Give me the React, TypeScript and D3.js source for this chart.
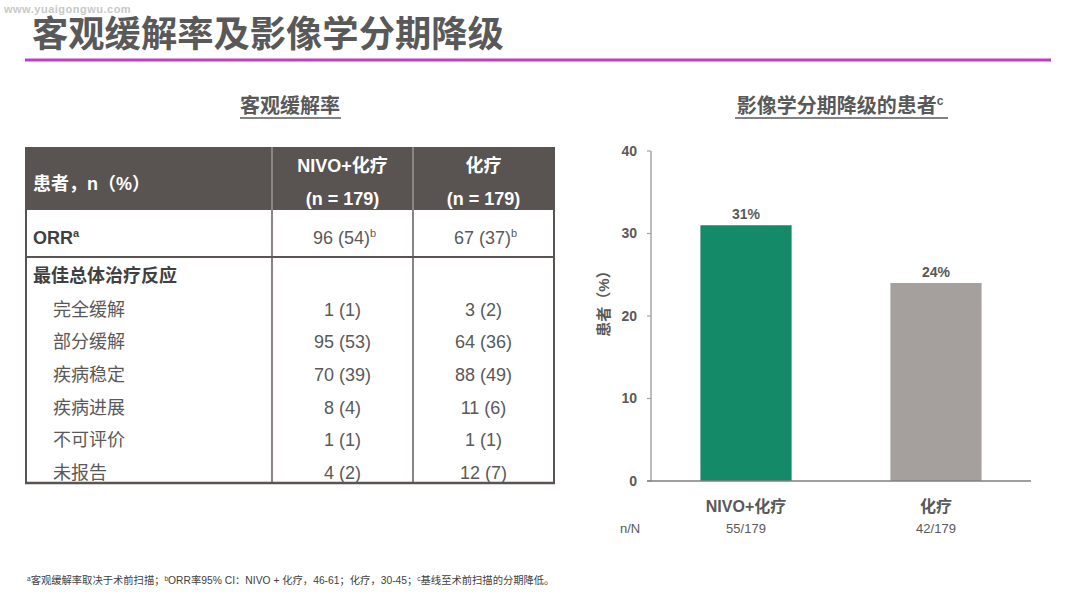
import React from "react";
import * as d3 from "d3";

const W = 1080;
const H = 598;
const FONT = "'Liberation Sans', Arial, 'Noto Sans CJK SC', sans-serif";
const TXT = "#595959";

// Bar chart data
const categories = ["NIVO+化疗", "化疗"];
const percentValues = [31, 24];
const nOverN = ["55/179", "42/179"];
const barColors = ["#158a68", "#a59f9e"];
const yTicks = [0, 10, 20, 30, 40];

// Table data
const tableHeaders = ["NIVO+化疗", "化疗"];
const tableHeaderN = ["(n = 179)", "(n = 179)"];
const orrValues = ["96 (54)", "67 (37)"];
const responseLabels = ["完全缓解", "部分缓解", "疾病稳定", "疾病进展", "不可评价", "未报告"];
const responseNivo = ["1 (1)", "95 (53)", "70 (39)", "8 (4)", "1 (1)", "4 (2)"];
const responseChemo = ["3 (2)", "64 (36)", "88 (49)", "11 (6)", "1 (1)", "12 (7)"];

export default function App() {
  // chart scales
  const y = d3.scaleLinear().domain([0, 40]).range([481, 151]);
  const x = d3.scaleBand().domain(categories).range([651, 1031]).paddingInner(0.52).paddingOuter(0.26);

  // table geometry
  const tL = 26, tR = 554, c1 = 272, c2 = 413;
  const hTop = 147, hBot = 210, orrBot = 257, tBot = 483;
  const colCenters = [(c1 + c2) / 2, (c2 + tR) / 2];
  const rowY = d3.range(responseLabels.length).map((i) => 315.5 + i * 32.7);
  const border = "#595452";

  return (
    <svg width={W} height={H} style={{ position: "absolute", left: 0, top: 0, background: "#fff" }} fontFamily={FONT}>
      <rect x={0} y={0} width={W} height={H} fill="#fff" />
      {/* watermark */}
      <text x={4} y={13} fontSize={11} fontWeight="bold" fill="#c8c8c8" letterSpacing={0.5}>www.yuaigongwu.com</text>
      {/* title */}
      <text x={32} y={47} fontSize={36.3} fontWeight="bold" fill={TXT}>客观缓解率及影像学分期降级</text>
      <line x1={25} x2={1051} y1={60} y2={60} stroke="#bf3fbf" strokeWidth={3} />

      {/* table subtitle */}
      <text x={290} y={113} fontSize={20} fontWeight="bold" fill={TXT} textAnchor="middle">客观缓解率</text>
      <line x1={240} x2={341} y1={118} y2={118} stroke={TXT} strokeWidth={1.3} />

      {/* table header */}
      <rect x={tL} y={hTop} width={tR - tL} height={hBot - hTop} fill="#595452" />
      <text x={33} y={190} fontSize={18} fontWeight="bold" fill="#fff">患者，n（%）</text>
      {tableHeaders.map((h, i) => (
        <g key={h}>
          <text x={colCenters[i]} y={172} fontSize={18} fontWeight="bold" fill="#fff" textAnchor="middle">{h}</text>
          <text x={colCenters[i]} y={205} fontSize={18} fontWeight="bold" fill="#fff" textAnchor="middle">{tableHeaderN[i]}</text>
        </g>
      ))}
      <line x1={c1} x2={c1} y1={hTop} y2={tBot} stroke="#8a8584" strokeWidth={2} />
      <line x1={c2} x2={c2} y1={hTop} y2={tBot} stroke="#8a8584" strokeWidth={2} />
      {/* table body borders */}
      <line x1={tL} x2={tL} y1={hTop} y2={tBot} stroke={border} strokeWidth={2} />
      <line x1={tR} x2={tR} y1={hTop} y2={tBot} stroke={border} strokeWidth={2} />
      <line x1={tL} x2={tR} y1={orrBot} y2={orrBot} stroke={border} strokeWidth={2} />
      <line x1={tL - 1} x2={tR + 1} y1={tBot} y2={tBot} stroke={border} strokeWidth={2.5} />

      {/* ORR row */}
      <text x={33} y={244} fontSize={18} fontWeight="bold" fill="#404040">
        ORR<tspan fontSize={11} dy={-7}>a</tspan>
      </text>
      {orrValues.map((v, i) => (
        <text key={i} x={colCenters[i] + 2} y={244} fontSize={18} fill={TXT} textAnchor="middle">
          {v}<tspan fontSize={11} dy={-7}>b</tspan>
        </text>
      ))}

      {/* best overall response */}
      <text x={33} y={282} fontSize={18} fontWeight="bold" fill="#404040">最佳总体治疗反应</text>
      {responseLabels.map((lab, i) => (
        <g key={lab}>
          <text x={53} y={rowY[i]} fontSize={18} fill={TXT}>{lab}</text>
          <text x={colCenters[0]} y={rowY[i]} fontSize={18} fill={TXT} textAnchor="middle">{responseNivo[i]}</text>
          <text x={colCenters[1]} y={rowY[i]} fontSize={18} fill={TXT} textAnchor="middle">{responseChemo[i]}</text>
        </g>
      ))}

      {/* chart subtitle */}
      <text x={840} y={113} fontSize={20} fontWeight="bold" fill={TXT} textAnchor="middle">
        影像学分期降级的患者<tspan fontSize={12} dy={-8}>c</tspan>
      </text>
      <line x1={735} x2={948} y1={118} y2={118} stroke={TXT} strokeWidth={1.3} />

      {/* y axis */}
      <line x1={651} x2={651} y1={y(40)} y2={y(0)} stroke="#a6a6a6" strokeWidth={1.5} />
      {yTicks.map((t) => (
        <g key={t}>
          <line x1={647} x2={651} y1={y(t)} y2={y(t)} stroke="#a6a6a6" strokeWidth={1.2} />
          <text x={637} y={y(t)} dy="0.35em" fontSize={14} fontWeight="bold" fill={TXT} textAnchor="end">{t}</text>
        </g>
      ))}
      <text transform={`translate(609,300) rotate(-90)`} fontSize={15} fontWeight="bold" fill={TXT} textAnchor="middle">患者（%）</text>

      {/* bars */}
      {categories.map((c, i) => (
        <g key={c}>
          <rect x={x(c)} y={y(percentValues[i])} width={x.bandwidth()} height={y(0) - y(percentValues[i])} fill={barColors[i]} />
          <text x={x(c)! + x.bandwidth() / 2} y={y(percentValues[i]) - 6} fontSize={14} fontWeight="bold" fill={TXT} textAnchor="middle">{percentValues[i]}%</text>
          <text x={x(c)! + x.bandwidth() / 2} y={512} fontSize={16} fontWeight="bold" fill={TXT} textAnchor="middle">{c}</text>
          <text x={x(c)! + x.bandwidth() / 2} y={533} fontSize={13} fill={TXT} textAnchor="middle">{nOverN[i]}</text>
        </g>
      ))}
      <line x1={647} x2={1031} y1={y(0)} y2={y(0)} stroke="#7f7f7f" strokeWidth={1.5} />
      <text x={620} y={533} fontSize={13} fill={TXT}>n/N</text>

      {/* footnote */}
      <text x={27} y={584} fontSize={10.3} fill="#404040">
        <tspan fontSize={6.5} dy={-3}>a</tspan><tspan dy={3}>客观缓解率取决于术前扫描；</tspan>
        <tspan fontSize={6.5} dy={-3}>b</tspan><tspan dy={3}>ORR率95% CI：NIVO + 化疗，46-61；化疗，30-45；</tspan>
        <tspan fontSize={6.5} dy={-3}>c</tspan><tspan dy={3}>基线至术前扫描的分期降低。</tspan>
      </text>
    </svg>
  );
}
